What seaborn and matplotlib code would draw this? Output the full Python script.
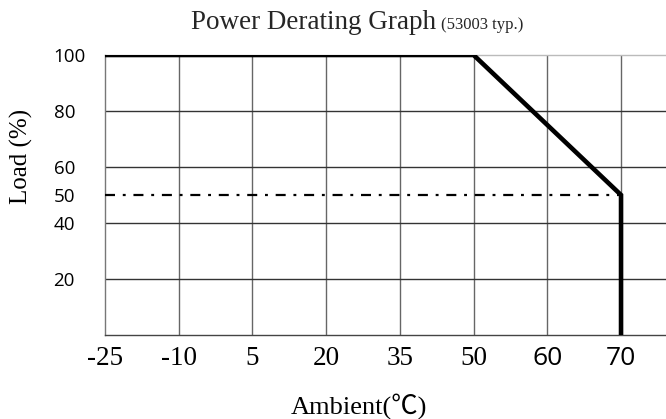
import numpy as np
import matplotlib
matplotlib.use('Agg')
import matplotlib.pyplot as plt
import seaborn as sns

# derating curve
ambient = [-25, 50, 70, 70]
load = [100, 100, 50, 0]

# 50% reference line
ref_ambient = [-25, 70]
ref_load = [50, 50]

x_ticks = [-25, -10, 5, 20, 35, 50, 60, 70]
y_ticks = [20, 40, 50, 60, 80, 100]
y_grid = [20, 40, 60, 80]

# uneven axis: each labelled tick gets the same width on the page
scale_vals = [-40] + x_ticks + [80]
scale_pos = list(range(-1, len(x_ticks) + 1))


def fwd(x):
    return np.interp(x, scale_vals, scale_pos)


def inv(p):
    return np.interp(p, scale_pos, scale_vals)


sns.set_style('white')
serif = ['Liberation Serif', 'Noto Sans CJK SC', 'DejaVu Serif']
sans = ['Open Sans', 'DejaVu Sans']

fig = plt.figure(figsize=(6.66, 4.19), dpi=100)
ax = fig.add_axes([105 / 666, 84 / 419, 561 / 666, 280 / 419])
ax.set_xscale('function', functions=(fwd, inv))
ax.set_xlim(-25, 76.1)
ax.set_ylim(0, 100)

# grid
for xv in x_ticks[1:]:
    ax.axvline(xv, color='#666666', lw=1, zorder=1)
for yv in y_grid:
    ax.axhline(yv, color='#333333', lw=1, zorder=1)

sns.lineplot(x=ref_ambient, y=ref_load, ax=ax, color='black', lw=1.6,
             linestyle=(0, (4.5, 3.5, 1.3, 3.5)), zorder=3)
sns.lineplot(x=ambient, y=load, ax=ax, sort=False, estimator=None,
             color='black', lw=3.3, solid_joinstyle='miter', zorder=4)

ax.spines['right'].set_visible(False)
ax.spines['top'].set_color('#bbbbbb')
ax.spines['left'].set_color('#777777')
ax.spines['bottom'].set_color('#444444')
for s in ['top', 'left', 'bottom']:
    ax.spines[s].set_linewidth(1)

ax.set_xticks(x_ticks)
ax.set_xticklabels([str(v) for v in x_ticks])
ax.set_yticks(y_ticks)
ax.set_yticklabels([str(v) for v in y_ticks])
ax.xaxis.set_minor_locator(matplotlib.ticker.NullLocator())
ax.tick_params(axis='x', length=0, pad=8)
ax.tick_params(axis='y', length=0, pad=37)
for lbl in ax.get_xticklabels():
    if lbl.get_text() in ('60', '70'):
        lbl.set_fontfamily(sans)
        lbl.set_fontsize(19)
    else:
        lbl.set_fontfamily(serif)
        lbl.set_fontsize(19.5)
    lbl.set_color('black')
for lbl in ax.get_yticklabels():
    lbl.set_fontfamily(sans)
    lbl.set_fontsize(13.5)
    lbl.set_horizontalalignment('left')
    lbl.set_color('black')

ax.set_xlabel('Ambient(℃)', family=serif, fontsize=19, color='black')
ax.xaxis.set_label_coords(254 / 561, -58 / 280)
ax.set_ylabel('Load (%)', family=serif, fontsize=18, color='black')
ax.yaxis.set_label_coords(-72 / 561, 179 / 280)

t1 = fig.text(191 / 666, 1 - 29 / 419, 'Power Derating Graph', family=serif,
              fontsize=19.5, va='baseline', ha='left')
renderer = fig.canvas.get_renderer()
bb = t1.get_window_extent(renderer)
fig.text((bb.x1 + 5) / fig.bbox.width, 1 - 29 / 419, '(53003 typ.)',
         family=serif, fontsize=12, va='baseline', ha='left')

fig.savefig('out.png', dpi=100)
